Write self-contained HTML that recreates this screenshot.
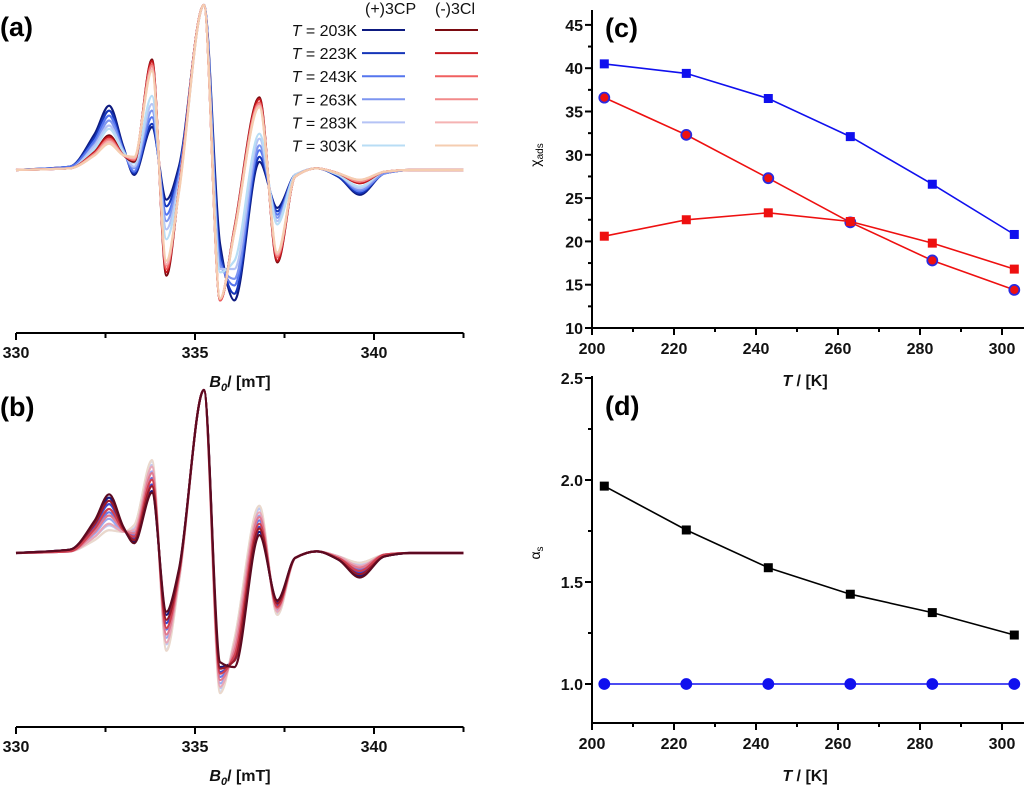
<!DOCTYPE html>
<html><head><meta charset="utf-8">
<style>
html,body{margin:0;padding:0;background:#fff;}
svg{display:block;font-family:"Liberation Sans",Arial,sans-serif;}
.tk{font-weight:bold;font-size:16px;fill:#111;}
.pl{font-weight:bold;font-size:27px;fill:#000;}
.lg{font-size:16px;fill:#111;}
</style></head>
<body>
<svg id="fig" width="1024" height="788" viewBox="0 0 1024 788"></svg>
<script>
// ---------- EPR spectra data ----------
const fields = [330,331.5,332.2,332.6,333.0,333.3,333.8,334.2,334.55,335.25,335.7,336.1,336.8,337.3,337.8,338.4,339.0,339.6,340.3,341,342.5];
const temps = ["203K","223K","243K","263K","283K","303K"];
const aPlus = [
 [0,2,22,39,14,-3,26,-18,2,100,-45,-79,5,-23,-3,1,-4,-15,-2,0,0],
 [0,2,20,36,13,-2,28,-22,0,100,-50,-75,8,-25,-3,1,-4,-14,-2,0,0],
 [0,2,18,33,12,-1,32,-27,-3,100,-55,-70,12,-27,-3,1,-3,-13,-2,0,0],
 [0,1,16,30,12,1,36,-31,-5,100,-58,-66,15,-29,-3,1,-3,-12,-2,0,0],
 [0,1,15,27,11,2,40,-36,-8,100,-60,-60,19,-31,-3,1,-3,-11,-1,0,0],
 [0,1,13,25,11,4,45,-42,-10,100,-62,-55,22,-33,-3,1,-3,-10,-1,0,0]];
const aMinus = [
 [0,1,11,21,9,5,67,-64,-12,100,-79,-35,44,-56,-4,1,-2,-8,-1,0,0],
 [0,1,11,20,9,6,66,-62,-12,100,-79,-36,43,-55,-4,1,-2,-8,-1,0,0],
 [0,1,10,19,9,6,64,-60,-12,100,-79,-36,41,-53,-4,1,-2,-7,-1,0,0],
 [0,1,10,18,9,7,63,-58,-13,100,-78,-37,40,-52,-4,1,-2,-7,-1,0,0],
 [0,1,9,17,9,7,61,-57,-13,100,-78,-38,39,-51,-4,1,-2,-6,-1,0,0],
 [0,1,9,16,9,8,60,-55,-14,100,-78,-38,38,-50,-4,1,-2,-6,-1,0,0]];
const bMinus = [
 [0,2,20,36,16,6,37,-36,-10,100,-67,-70,11,-29,-3,1,-4,-15,-2,0,0],
 [0,2,18,32,15,8,41,-41,-12,100,-71,-66,15,-31,-3,1,-4,-13,-2,0,0],
 [0,1,15,27,14,10,45,-46,-13,100,-74,-63,18,-33,-3,1,-3,-11,-1,0,0],
 [0,1,13,23,14,12,49,-50,-15,100,-78,-60,22,-34,-3,1,-3,-9,-1,0,0],
 [0,1,10,18,13,14,53,-55,-16,100,-82,-56,25,-36,-3,1,-2,-8,-1,0,0],
 [0,1,8,14,13,17,57,-60,-18,100,-86,-53,29,-38,-3,1,-2,-6,-1,0,0]];
const bPlus = [
 [0,2,19,34,15,7,38,-38,-11,100,-70,-66,13,-30,-3,1,-4,-14,-2,0,0],
 [0,2,17,30,15,9,42,-43,-12,100,-73,-64,16,-32,-3,1,-3,-12,-2,0,0],
 [0,1,14,25,14,11,46,-47,-14,100,-76,-61,20,-33,-3,1,-3,-10,-1,0,0],
 [0,1,12,21,13,13,50,-52,-15,100,-80,-58,23,-35,-3,1,-3,-9,-1,0,0],
 [0,1,10,17,13,15,54,-56,-17,100,-83,-55,27,-37,-3,1,-2,-7,-1,0,0],
 [0,1,8,14,13,17,56,-59,-18,100,-85,-53,28,-38,-3,1,-2,-6,-1,0,0]];
const aPlusColors=['#0d1a80','#1535b8','#5575ee','#7d95f0','#b5c3f5','#b8ddf5'];
const aMinusColors=['#7a0a10','#c4161c','#f06060','#f28a8a','#f5b3b3','#f5cdb0'];
const bMinusColors=['#5c0a20','#9a1a2a','#d04050','#e07a90','#e8a8b8','#ead8cc'];
const bPlusColors=['#1a1a80','#3a4ad0','#6a7ae8','#9aa8f0','#c0c8f0','#d8dcea'];
const fieldTicks=[330,335,340];

// ---------- panel c/d data ----------
const tempsK=[203,223,243,263,283,303];
const chiPlusSq=[40.5,39.4,36.5,32.1,26.6,20.8];
const chiMinusCirc=[36.6,32.3,27.3,22.2,17.8,14.4];
const chiMinusSq=[20.6,22.5,23.3,22.3,19.8,16.8];
const alphaBlack=[1.97,1.755,1.57,1.44,1.35,1.24];
const alphaBlue=[1.0,1.0,1.0,1.0,1.0,1.0];
const tTicks=[200,220,240,260,280,300];
const chiTicks=[10,15,20,25,30,35,40,45];
const alphaTicks=["1.0","1.5","2.0","2.5"];

const NS="http://www.w3.org/2000/svg";
const svg=document.getElementById('fig');
function mk(tag,attrs,parent){const e=document.createElementNS(NS,tag);for(const k in attrs)e.setAttribute(k,attrs[k]);(parent||svg).appendChild(e);return e;}
function txt(s,x,y,cls,anchor,parent){const t=mk('text',{x:x,y:y,class:cls,'text-anchor':anchor||'start'},parent);t.textContent=s;return t;}

function monoPath(xs,ys){
  const n=xs.length,d=[],m=[];
  for(let i=0;i<n-1;i++)d.push((ys[i+1]-ys[i])/(xs[i+1]-xs[i]));
  m[0]=d[0];m[n-1]=d[n-2];
  for(let i=1;i<n-1;i++){ if(d[i-1]*d[i]<=0)m[i]=0; else m[i]=2/(1/d[i-1]+1/d[i]); }
  let p='M'+xs[0].toFixed(1)+','+ys[0].toFixed(1);
  for(let i=0;i<n-1;i++){const h=xs[i+1]-xs[i];
    p+=' C'+(xs[i]+h/3).toFixed(1)+','+(ys[i]+m[i]*h/3).toFixed(1)+' '+(xs[i+1]-h/3).toFixed(1)+','+(ys[i+1]-m[i+1]*h/3).toFixed(1)+' '+xs[i+1].toFixed(1)+','+ys[i+1].toFixed(1);}
  return p;
}

// ---------- EPR panels ----------
function eprPanel(name,base,scale,axisY,series,title,label,labelY,reverse){
  const g=mk('g',{});
  
  
  const fx=v=>16+(v-330)*35.8;
  const fy=v=>base-v*scale;
  series.forEach(s=>{
    const idx=[0,1,2,3,4,5];
    if(reverse)idx.reverse();
    idx.forEach(i=>{
      const arr=s.data[i];
      const p=mk('path',{d:monoPath(fields.map(fx),arr.map(fy)),fill:'none',stroke:s.colors[i],'stroke-width':2.2},g);
      
      
    });
  });
  const ax=mk('g',{},g);
  
  
  mk('line',{x1:fx(330),x2:fx(342.5),y1:axisY,y2:axisY,stroke:'#000','stroke-width':2},ax);
  for(let v=330;v<=342.5;v+=2.5){const major=fieldTicks.includes(v);
    mk('line',{x1:fx(v),x2:fx(v),y1:axisY,y2:axisY+(major?7:5),stroke:'#000','stroke-width':2},ax);}
  fieldTicks.forEach(v=>txt(String(v),fx(v),axisY+25,'tk','middle',ax));
  const t=mk('text',{x:240,y:axisY+54,class:'tk','text-anchor':'middle'},g);
  
  
  t.innerHTML='<tspan font-style="italic">B</tspan><tspan font-size="11" dy="4" font-style="italic">0</tspan><tspan dy="-4">/'+title+'</tspan>';
  const l=txt(label,0,labelY,'pl','start',g);
  
  
}
eprPanel('panel-a-spectra',170,1.65,333,[{key:'plus',data:aPlus,colors:aPlusColors},{key:'minus',data:aMinus,colors:aMinusColors}],' [mT]','(a)',36,false);
eprPanel('panel-b-spectra',553,1.63,727,[{key:'plus',data:bPlus,colors:bPlusColors},{key:'minus',data:bMinus,colors:bMinusColors}],'  [mT]','(b)',416,true);

// legend panel a
const lg=mk('g',{});


txt('(+)3CP',365,14,'lg','start',lg);
txt('(-)3Cl',435,14,'lg','start',lg);
temps.forEach((t,i)=>{const y=30+i*23.1;
  const e=mk('g',{},lg);
  
  
  const tt=mk('text',{x:357,y:y+6,class:'lg','text-anchor':'end'},e);
  tt.innerHTML='<tspan font-style="italic">T</tspan> = '+t.replace('K','')+'K';
  mk('line',{x1:362,x2:405,y1:y,y2:y,stroke:aPlusColors[i],'stroke-width':2},e);
  mk('line',{x1:435,x2:478,y1:y,y2:y,stroke:aMinusColors[i],'stroke-width':2},e);
});
mk('rect',{x:479,y:0,width:20,height:160,fill:'#fff'});

// ---------- XY panels ----------
const tx=v=>592+(v-200)*4.1;
function xyAxes(g,yTop,yBot,axisY){
  mk('line',{x1:592,x2:592,y1:yTop,y2:axisY,stroke:'#000','stroke-width':2},g);
  mk('line',{x1:592,x2:1024,y1:axisY,y2:axisY,stroke:'#000','stroke-width':2},g);
  for(let v=200;v<=305;v+=10){const major=tTicks.includes(v);
    mk('line',{x1:tx(v),x2:tx(v),y1:axisY,y2:axisY+(major?7:4),stroke:'#000','stroke-width':2},g);}
  tTicks.forEach(v=>txt(String(v),tx(v),axisY+26,'tk','middle',g));
}
function marker(g,type,x,y,fill,stroke,name){
  let e;
  if(type==='sq')e=mk('rect',{x:x-4.5,y:y-4.5,width:9,height:9,fill:fill},g);
  else e=mk('circle',{cx:x,cy:y,r:5,fill:fill,stroke:stroke,'stroke-width':1.8},g);
  
  
}
// panel c
const gc=mk('g',{});


const cy=v=>328-(v-10)*8.66;
xyAxes(gc,10,328,328);
for(let v=10;v<=45;v+=2.5){const major=v%5===0;
  mk('line',{x1:592,x2:592-(major?7:4),y1:cy(v),y2:cy(v),stroke:'#000','stroke-width':2},gc);}
chiTicks.forEach(v=>txt(String(v),583,cy(v)+6,'tk','end',gc));
[[chiPlusSq,'#1010ee','sq','#1010ee','plus-square'],[chiMinusCirc,'#ee1010','ci','#ee1010','minus-circle'],[chiMinusSq,'#ee1010','sq','#ee1010','minus-square']].forEach(([arr,col,type,fill,nm])=>{
  const pts=arr.map((v,i)=>tx(tempsK[i]).toFixed(1)+','+cy(v).toFixed(1)).join(' ');
  const pl=mk('polyline',{points:pts,fill:'none',stroke:col,'stroke-width':1.6},gc);
  
  
  arr.forEach((v,i)=>marker(gc,type,tx(tempsK[i]),cy(v),fill,'#2a2ae0',nm+'-point-'+tempsK[i]));
});
const lc=txt('(c)',605,37,'pl','start',gc);


const xtc=mk('text',{x:805,y:386,class:'tk','text-anchor':'middle'},gc);


xtc.innerHTML='<tspan font-style="italic">T</tspan> / [K]';
const ytc=mk('text',{x:0,y:0,'font-size':'14','text-anchor':'middle',transform:'translate(540,155) rotate(-90)'},gc);


ytc.innerHTML='χ<tspan font-size="10" dy="3">ads</tspan>';

// panel d
const gd=mk('g',{});


const dy=v=>684-(v-1.0)*204;
xyAxes(gd,376,723,723);
for(let v=1.0;v<=2.51;v+=0.25){const major=Math.abs(v*2-Math.round(v*2))<1e-6;
  mk('line',{x1:592,x2:592-(major?7:4),y1:dy(v),y2:dy(v),stroke:'#000','stroke-width':2},gd);}
alphaTicks.forEach(s=>txt(s,583,dy(parseFloat(s))+6,'tk','end',gd));
[[alphaBlack,'#000','sq','#000','alpha-black'],[alphaBlue,'#1010ee','ci','#1010ee','alpha-blue']].forEach(([arr,col,type,fill,nm])=>{
  const pts=arr.map((v,i)=>tx(tempsK[i]).toFixed(1)+','+dy(v).toFixed(1)).join(' ');
  const pl=mk('polyline',{points:pts,fill:'none',stroke:col,'stroke-width':1.6},gd);
  
  
  arr.forEach((v,i)=>marker(gd,type,tx(tempsK[i]),dy(v),fill,'#1010ee',nm+'-point-'+tempsK[i]));
});
const ld=txt('(d)',605,415,'pl','start',gd);


const xtd=mk('text',{x:805,y:781,class:'tk','text-anchor':'middle'},gd);


xtd.innerHTML='<tspan font-style="italic">T</tspan> / [K]';
const ytd=mk('text',{x:0,y:0,'font-size':'14','text-anchor':'middle',transform:'translate(540,553) rotate(-90)'},gd);


ytd.innerHTML='α<tspan font-size="10" dy="3">s</tspan>';
</script>
</body></html>
